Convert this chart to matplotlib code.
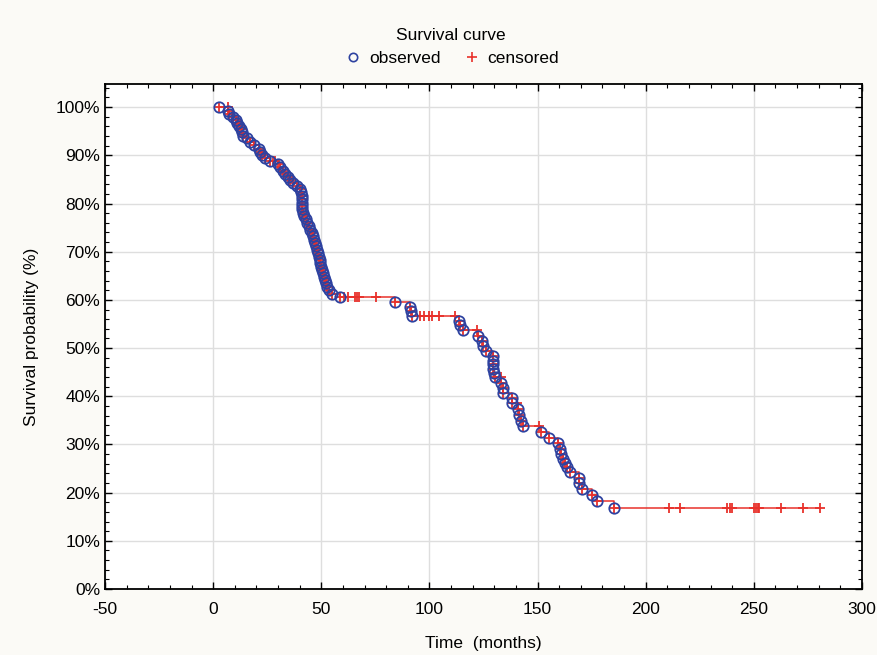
import numpy as np
import matplotlib.pyplot as plt
from matplotlib.ticker import MultipleLocator, FuncFormatter
from matplotlib.lines import Line2D

# step points of the survival curve: time (months), survival (%), 1 = observed, 0 = censored
time = [2.9, 7.0, 7.1, 7.5, 9.4, 10.5, 11.0, 12.0, 13.0, 13.5, 14.0, 15.5, 17.1, 19.0,
        21.0, 21.8, 22.5, 24.0, 26.4, 27.5, 28.5, 30.0, 31.0, 32.5, 33.3, 34.5, 35.6,
        37.0, 38.7, 40.0, 40.5, 41.0, 41.0, 41.0, 41.2, 41.3, 41.5, 42.0, 43.0, 43.5,
        44.5, 45.0, 45.5, 46.0, 46.5, 47.0, 47.5, 48.0, 48.5, 48.8, 49.2, 49.5, 50.0,
        50.3, 50.7, 51.1, 51.5, 52.0, 52.6, 53.5, 55.0, 58.8, 60.5, 62.3, 65.7, 66.5,
        67.4, 75.3, 84.3, 90.9, 91.3, 92.0, 95.8, 97.4, 99.7, 101.2, 104.3, 112.0,
        113.9, 114.0, 115.4, 121.8, 122.4, 124.1, 124.8, 126.2, 129.5, 129.5, 129.5,
        129.5, 129.8, 130.2, 132.9, 133.3, 133.8, 134.1, 138.3, 138.4, 140.4, 140.9,
        141.4, 142.4, 143.2, 150.5, 151.5, 155.5, 159.4, 160.3, 160.8, 161.9, 162.6,
        163.4, 165.0, 169.1, 169.2, 170.4, 175.3, 177.6, 185.3, 210.8, 215.9, 237.8,
        239.0, 240.1, 249.9, 250.9, 251.7, 252.6, 262.5, 272.5, 280.7]
surv = [100.0, 100.0, 99.3, 98.6, 98.0, 97.4, 96.8, 96.1, 95.5, 94.8, 94.1, 93.5, 92.8,
        92.1, 91.4, 90.7, 90.0, 89.4, 88.9, 88.9, 88.9, 88.2, 87.5, 86.8, 86.1, 85.4,
        84.8, 84.2, 83.6, 83.0, 82.3, 81.6, 80.9, 80.2, 79.5, 78.8, 78.1, 77.4, 76.7,
        76.0, 75.3, 74.6, 73.9, 73.2, 72.5, 71.8, 71.1, 70.4, 69.7, 69.0, 68.3, 67.6,
        66.9, 66.2, 65.5, 64.8, 64.1, 63.4, 62.7, 62.0, 61.3, 60.6, 60.6, 60.6, 60.6,
        60.6, 60.6, 60.6, 59.6, 58.6, 57.6, 56.7, 56.7, 56.7, 56.7, 56.7, 56.7, 56.7,
        55.6, 54.8, 53.7, 53.7, 52.6, 51.5, 50.4, 49.4, 48.3, 47.4, 46.6, 45.7, 44.8,
        43.9, 43.9, 42.8, 41.8, 40.7, 39.6, 38.5, 38.5, 37.3, 36.1, 34.9, 33.8, 33.8,
        32.6, 31.4, 30.2, 29.1, 28.1, 27.0, 26.2, 25.3, 24.2, 23.0, 21.9, 20.7, 19.5,
        18.2, 16.8, 16.8, 16.8, 16.8, 16.8, 16.8, 16.8, 16.8, 16.8, 16.8, 16.8, 16.8, 16.8]
observed = [1, 0, 1, 1, 1, 1, 1, 1, 1, 1, 1, 1, 1, 1, 1, 1, 1, 1, 1, 0, 0, 1, 1, 1, 1, 1,
            1, 1, 1, 1, 1, 1, 1, 1, 1, 1, 1, 1, 1, 1, 1, 1, 1, 1, 1, 1, 1, 1, 1, 1, 1, 1,
            1, 1, 1, 1, 1, 1, 1, 1, 1, 1, 0, 0, 0, 0, 0, 0, 1, 1, 1, 1, 0, 0, 0, 0, 0, 0,
            1, 1, 1, 0, 1, 1, 1, 1, 1, 1, 1, 1, 1, 1, 0, 1, 1, 1, 1, 1, 0, 1, 1, 1, 1, 0,
            1, 1, 1, 1, 1, 1, 1, 1, 1, 1, 1, 1, 1, 1, 1, 0, 0, 0, 0, 0, 0, 0, 0, 0, 0, 0, 0]

time = np.array(time)
surv = np.array(surv)
obs = np.array(observed) == 1

red = '#e8312b'
blue = '#2e42a0'

plt.rcParams['font.family'] = ['Liberation Sans', 'DejaVu Sans']
plt.rcParams['axes.unicode_minus'] = False
fig = plt.figure(figsize=(8.78, 6.55), dpi=100, facecolor='#fbfaf6')
ax = fig.add_axes([105/878, 1-589/655, (862-105)/878, (589-84)/655])
ax.set_facecolor('white')

ax.plot(time, surv, drawstyle='steps-post', color=red, lw=1.1, zorder=3)
ax.plot(time, surv, ls='none', marker='+', ms=7.5, mew=1.3, color=red, zorder=4)
ax.plot(time[obs], surv[obs], ls='none', marker='o', ms=7.5, mfc='none',
        mec=blue, mew=1.3, zorder=5)

ax.set_xlim(-50, 300)
ax.set_ylim(0, 104.8)
ax.xaxis.set_major_locator(MultipleLocator(50))
ax.xaxis.set_minor_locator(MultipleLocator(10))
ax.yaxis.set_major_locator(MultipleLocator(10))
ax.yaxis.set_minor_locator(MultipleLocator(2))
ax.yaxis.set_major_formatter(FuncFormatter(lambda v, p: '%d%%' % round(v)))
ax.tick_params(which='both', direction='in', top=True, right=True, labelsize=12.5,
               color='black')
ax.tick_params(which='major', length=5, width=1)
ax.tick_params(which='minor', length=3, width=0.8)
ax.tick_params(axis='x', pad=9)
ax.grid(True, which='major', color='#dedede', lw=1)
ax.set_axisbelow(True)
for s in ax.spines.values():
    s.set_linewidth(1.3)

ax.set_xlabel('Time  (months)', fontsize=12.5, labelpad=14)
ax.set_ylabel('Survival probability (%)', fontsize=12.5, labelpad=12)

handles = [Line2D([], [], ls='none', marker='o', ms=6, mfc='none', mec=blue, mew=1.2),
           Line2D([], [], ls='none', marker='+', ms=7, mew=1.2, color=red)]
leg = fig.legend(handles, ['observed', 'censored'], title='Survival curve', ncol=2,
                 loc='center', bbox_to_anchor=(451/878, 1-47/655), frameon=False,
                 fontsize=12.5, title_fontsize=12.5, handletextpad=0.3,
                 columnspacing=1.2, handlelength=1.2)

fig.savefig('out.png', dpi=100, facecolor=fig.get_facecolor())
